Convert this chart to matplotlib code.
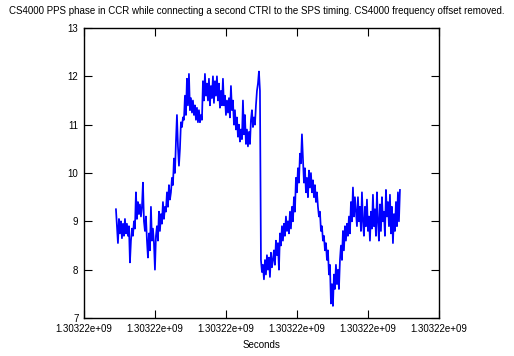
import numpy as np
import matplotlib
matplotlib.use('Agg')
import matplotlib.pyplot as plt

plt.rcParams['font.family'] = ['Liberation Sans', 'DejaVu Sans']

# Sample window (unix seconds)
t_first = 1303218450
t_last = 1303222450

# CS4000 PPS phase samples
phase = [
    9.25, 8.9, 8.55, 9.05, 8.75, 9.0, 8.65, 8.95, 8.7, 9.05, 8.75, 8.95, 8.7,
    8.9, 8.15, 8.6,
    8.85, 8.7, 9.0, 8.85,
    9.6, 9.05, 9.4, 9.15, 9.35, 9.1, 9.3, 9.8,
    9.0, 8.8, 9.1, 8.6,
    8.25, 8.75, 8.4, 9.3, 8.6,
    8.85, 8.55, 8.0, 8.7,
    8.9, 8.6, 9.2, 8.8, 9.15, 8.95, 9.4, 9.05, 9.3,
    9.2, 9.6, 9.3, 9.75, 9.45, 9.6, 9.9,
    9.75, 10.3, 10.0, 10.65, 11.2, 10.55, 10.15, 10.5, 11.05, 10.95, 11.15,
    11.1, 11.6, 11.2, 11.95, 11.4, 12.05, 11.3,
    11.55, 11.25, 11.5, 11.2, 11.4, 11.1, 11.35, 11.05, 11.3, 11.05, 11.2, 11.1,
    11.9, 11.5, 12.05, 11.6, 11.85,
    11.5, 11.95, 11.4, 11.8, 11.55, 12.0, 11.45, 11.9, 11.6, 12.0, 11.5, 11.85,
    11.35, 11.7, 11.4, 11.95,
    11.4, 11.6, 11.2, 11.5, 11.25, 11.55, 11.15,
    11.8, 11.3, 11.5, 11.0, 11.3, 10.9, 11.15, 10.75, 11.0, 10.65, 10.9, 10.7,
    11.5, 10.8, 11.2, 10.6, 10.9, 10.55, 10.85, 10.6,
    11.1, 11.3, 10.95, 11.15, 11.0,
    11.4, 11.7, 11.85, 12.1, 11.7, 8.2,
    7.95, 8.1, 7.8, 8.2, 7.9, 8.3, 8.0, 8.25, 7.85, 8.35, 8.05, 8.2,
    8.4, 8.1, 8.6, 8.3, 8.55, 8.0, 8.75, 8.5, 8.9, 8.6, 8.95, 8.7, 9.1, 8.8,
    9.0, 8.75, 9.2,
    8.85, 9.3, 9.0, 9.5, 9.2, 9.9, 9.6, 10.1, 9.8, 10.4, 10.2, 10.8,
    10.3, 9.8, 10.1, 9.6, 9.9, 9.5, 10.05, 9.7, 10.0, 9.6, 9.85, 9.5, 9.75,
    9.4, 9.6,
    9.3, 9.1, 9.2, 8.8, 8.9, 8.6, 8.7, 8.4,
    8.55, 8.2, 8.4, 7.9, 8.1, 7.3, 7.7, 7.25, 7.9, 7.6,
    8.1, 7.7, 8.0, 7.6, 8.2,
    8.5, 8.2, 8.8, 8.4, 8.9, 8.6, 8.95, 8.7, 9.1, 8.75,
    9.4, 9.0, 9.7, 9.1, 9.5,
    9.2, 8.9, 9.5, 9.0, 9.3, 8.8, 9.6, 9.0, 8.7, 9.3, 8.9, 9.45, 8.8, 9.1,
    8.6, 9.2, 8.85, 9.55, 8.9, 9.25, 8.7, 9.6, 9.0, 8.6, 9.35, 8.8, 9.5, 9.0,
    9.2, 8.7, 9.65, 9.1, 9.4, 8.9, 9.55, 8.75, 9.3, 8.55, 9.15, 8.8, 9.4,
    8.9, 9.6, 9.0, 9.65,
]

x_ticks = [1303218000, 1303219000, 1303220000, 1303221000, 1303222000, 1303223000]
y_ticks = [7, 8, 9, 10, 11, 12, 13]

t = np.linspace(t_first, t_last, len(phase))

fig = plt.figure(figsize=(5.14, 3.56), dpi=100)
ax = fig.add_axes([84 / 514, 38 / 356, 355 / 514, 290 / 356])

ax.plot(t, phase, color='#0000ff', lw=1.25)

ax.set_xlim(x_ticks[0], x_ticks[-1])
ax.set_ylim(y_ticks[0], y_ticks[-1])
ax.set_xticks(x_ticks)
ax.set_yticks(y_ticks)
# gnuplot-style %g labels: every tick collapses to the same 6 significant digits
ax.set_xticklabels(['%g' % v for v in x_ticks])

ax.tick_params(direction='in', length=6, width=0.8, top=True, right=True,
               labelsize=7, pad=4, colors='black')
for s in ax.spines.values():
    s.set_linewidth(1.0)

ax.set_xlabel('Seconds', fontsize=7, labelpad=5)
fig.text(0.5, 1 - 11 / 356,
         'CS4000 PPS phase in CCR while connecting a second CTRI to the SPS timing. '
         'CS4000 frequency offset removed.',
         ha='center', va='center', fontsize=7)

fig.savefig('out.png', dpi=100)
